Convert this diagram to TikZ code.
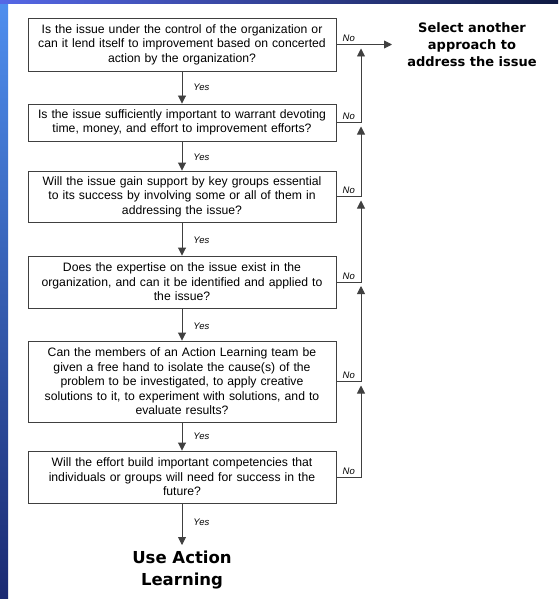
\documentclass[tikz,border=0pt]{standalone}
\usepackage{fontspec}
\setmainfont{Liberation Sans}
\newfontfamily\headfont{DejaVu Sans}
\usetikzlibrary{arrows.meta}
\definecolor{lineclr}{HTML}{404040}
\definecolor{stripA}{HTML}{4F8FEF}
\definecolor{stripB}{HTML}{3565D5}
\definecolor{stripC}{HTML}{1B2A72}
\definecolor{topA}{HTML}{5567E6}
\definecolor{topB}{HTML}{0F1A42}
\begin{document}
\begin{tikzpicture}[x=1pt,y=-1pt,
  qbox/.style={draw=lineclr, line width=0.9pt, fill=white, minimum width=308pt,
    text width=306pt, align=center, inner sep=0pt,
    font=\fontsize{12.2}{14.5}\selectfont},
  conn/.style={draw=lineclr, line width=0.9pt},
  arr/.style={conn, -{Triangle[length=8pt,width=8pt]}},
  lab/.style={font=\itshape\fontsize{9.5}{10}\selectfont, inner sep=1pt},
  outcome/.style={font=\headfont\bfseries, align=center, inner sep=0pt}]
\useasboundingbox (0,0) rectangle (558,599);
\fill[white] (0,0) rectangle (558,599);
\shade[top color=stripA, middle color=stripB, bottom color=stripC] (0,0) rectangle (8,599);
\shade[left color=topA, right color=topB] (0,0) rectangle (558,4);

\node[qbox, minimum height=53pt] (b1) at (182,44.5)
  {Is the issue under the control of the organization or\\can it lend itself to improvement based on concerted\\action by the organization?};
\node[qbox, minimum height=37pt] (b2) at (182,122.5)
  {Is the issue sufficiently important to warrant devoting\\time, money, and effort to improvement efforts?};
\node[qbox, minimum height=51pt] (b3) at (182,196.5)
  {Will the issue gain support by key groups essential\\to its success by involving some or all of them in\\addressing the issue?};
\node[qbox, minimum height=52pt] (b4) at (182,282)
  {Does the expertise on the issue exist in the\\organization, and can it be identified and applied to\\the issue?};
\node[qbox, minimum height=81pt] (b5) at (182,381.5)
  {Can the members of an Action Learning team be\\given a free hand to isolate the cause(s) of the\\problem to be investigated, to apply creative\\solutions to it, to experiment with solutions, and to\\evaluate results?};
\node[qbox, minimum height=52pt] (b6) at (182,477)
  {Will the effort build important competencies that\\individuals or groups will need for success in the\\future?};

\node[outcome, font=\headfont\bfseries\fontsize{16.5}{21.5}\selectfont, anchor=north] (use) at (182,551)
  {Use Action\\Learning};
\node[outcome, font=\headfont\bfseries\fontsize{13}{17}\selectfont] (sel) at (472,45)
  {Select another\\approach to\\address the issue};

% Yes connectors
\draw[arr] (b1.south) -- node[lab, right=10pt, pos=0.5] {Yes} (b2.north);
\draw[arr] (b2.south) -- node[lab, right=10pt, pos=0.55] {Yes} (b3.north);
\draw[arr] (b3.south) -- node[lab, right=10pt, pos=0.55] {Yes} (b4.north);
\draw[arr] (b4.south) -- node[lab, right=10pt, pos=0.55] {Yes} (b5.north);
\draw[arr] (b5.south) -- node[lab, right=10pt, pos=0.5] {Yes} (b6.north);
\coordinate (ue) at (182,545);
\draw[arr] (b6.south) -- node[lab, right=10pt, pos=0.45] {Yes} (ue);

% No connectors
\coordinate (j1) at (361,44.5);
\coordinate (j2) at (361,122.5);
\coordinate (j3) at (361,196.5);
\coordinate (j4) at (361,282);
\coordinate (j5) at (361,381.5);
\coordinate (j6) at (361,477);
\coordinate (t1) at (361,48.5);
\coordinate (t2) at (361,126.5);
\coordinate (t3) at (361,200.5);
\coordinate (t4) at (361,286);
\coordinate (t5) at (361,385.5);
\coordinate (se) at (392,44.5);

\draw[arr] (b1.east) -- node[lab, above=1pt] {No} (j1) -- (se);
\draw[arr] (b2.east) -- node[lab, above=1pt] {No} (j2) -- (t1);
\draw[arr] (b3.east) -- node[lab, above=1pt] {No} (j3) -- (t2);
\draw[arr] (b4.east) -- node[lab, above=1pt] {No} (j4) -- (t3);
\draw[arr] (b5.east) -- node[lab, above=1pt] {No} (j5) -- (t4);
\draw[arr] (b6.east) -- node[lab, above=1pt] {No} (j6) -- (t5);
\end{tikzpicture}
\end{document}
